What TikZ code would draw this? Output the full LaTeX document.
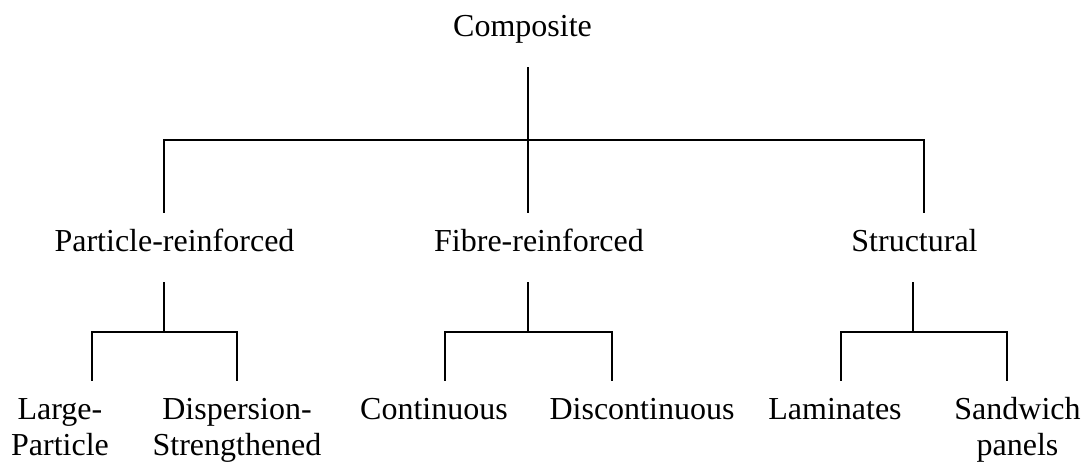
\documentclass[tikz,border=0pt]{standalone}
\usepackage{fontspec}
\setmainfont{Liberation Serif}
\begin{document}
\begin{tikzpicture}[x=1pt,y=-1pt,
  lbl/.style={inner sep=0pt,anchor=base,align=center,font=\fontsize{32}{36}\selectfont},
  conn/.style={line width=1.6pt,line cap=rect}]
\useasboundingbox[fill=white] (0,0) rectangle (1092,461);
% labels
\node[lbl] (comp) at (522.5,36) {Composite};
\node[lbl] (part) at (174.5,251) {Particle-reinforced};
\node[lbl] (fibre) at (539,251) {Fibre-reinforced};
\node[lbl] (struct) at (914.5,251) {Structural};
\node[lbl] (large) at (60,455) {Large-\\Particle};
\node[lbl] (disp) at (237,455) {Dispersion-\\Strengthened};
\node[lbl] (cont) at (434,419) {Continuous};
\node[lbl] (disc) at (642,419) {Discontinuous};
\node[lbl] (lam) at (835,419) {Laminates};
\node[lbl] (sand) at (1017.5,455) {Sandwich\\panels};
% connector points
\coordinate (c0) at (528,68);
\coordinate (hub) at (528,140);
\coordinate (pA) at (164,140);
\coordinate (sA) at (924,140);
\coordinate (pB) at (164,212);
\coordinate (fB) at (528,212);
\coordinate (sB) at (924,212);
\coordinate (pC) at (164,283);
\coordinate (pD) at (164,332);
\coordinate (lgA) at (92,332);
\coordinate (dsA) at (237,332);
\coordinate (lgB) at (92,380);
\coordinate (dsB) at (237,380);
\coordinate (fC) at (528,283);
\coordinate (fD) at (528,332);
\coordinate (coA) at (445,332);
\coordinate (diA) at (612,332);
\coordinate (coB) at (445,380);
\coordinate (diB) at (612,380);
\coordinate (sC) at (913,283);
\coordinate (sD) at (913,332);
\coordinate (laA) at (841,332);
\coordinate (saA) at (1007,332);
\coordinate (laB) at (841,380);
\coordinate (saB) at (1007,380);
% connectors
\draw[conn] (c0) -- (hub);
\draw[conn] (pB) -- (pA) -- (sA) -- (sB);
\draw[conn] (hub) -- (fB);
\draw[conn] (pC) -- (pD);
\draw[conn] (lgB) -- (lgA) -- (dsA) -- (dsB);
\draw[conn] (fC) -- (fD);
\draw[conn] (coB) -- (coA) -- (diA) -- (diB);
\draw[conn] (sC) -- (sD);
\draw[conn] (laB) -- (laA) -- (saA) -- (saB);
\end{tikzpicture}
\end{document}
